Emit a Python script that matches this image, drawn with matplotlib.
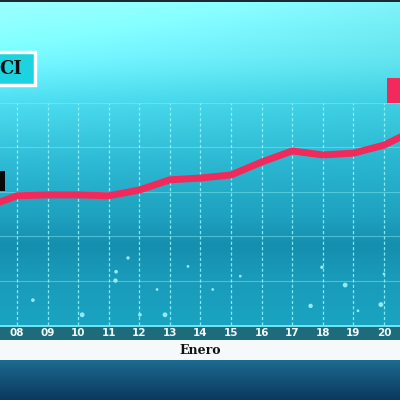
import numpy as np
import matplotlib
matplotlib.use("Agg")
import matplotlib.pyplot as plt
from matplotlib.colors import to_rgb
from matplotlib.patches import Rectangle

# Days of January shown on the axis (07 and 21 fall outside the frame)
days = [7, 8, 9, 10, 11, 12, 13, 14, 15, 16, 17, 18, 19, 20, 21]
values = [2.66, 2.91, 2.93, 2.93, 2.91, 3.04, 3.27, 3.31, 3.38, 3.67, 3.92, 3.83, 3.87, 4.05, 4.39]
tick_days = [8, 9, 10, 11, 12, 13, 14, 15, 16, 17, 18, 19, 20]
tick_labels = ['08', '09', '10', '11', '12', '13', '14', '15', '16', '17', '18', '19', '20']
x_label = 'Enero'
title_label = 'CI'

# decorative light dots in the lower part of the plot (day, value)
dot_x = [8.52, 10.13, 11.22, 11.24, 11.63, 12.02, 12.58, 12.84, 13.59, 14.4, 15.3, 17.6, 17.97, 18.73, 19.15, 19.9, 20.0]
dot_y = [0.56, 0.23, 1.0, 1.2, 1.51, 0.23, 0.8, 0.23, 1.32, 0.8, 1.1, 0.43, 1.3, 0.9, 0.32, 0.46, 1.15]
dot_s = [7, 12, 10, 7, 6, 7, 4, 12, 4, 4, 4, 10, 6, 12, 4, 12, 4]

fig = plt.figure(figsize=(4, 4), dpi=100)

# background gradient
bg = fig.add_axes([0, 0, 1, 1])
bg.set_axis_off()
stops = [(0, '#80f4f9'), (60, '#62e4ef'), (100, '#3fd0e3'), (160, '#2ab6d0'),
         (215, '#1ea2c0'), (245, '#168eae'), (275, '#199ab9'), (325, '#1aa4c2')]
rows = np.arange(400)
ys = [s[0] for s in stops]
cols = np.array([to_rgb(s[1]) for s in stops])
grad = np.stack([np.interp(rows, ys, cols[:, k]) for k in range(3)], axis=1)
img = np.repeat(grad[:, None, :], 400, axis=1)
# lighter on the left at the top
xs = np.linspace(1, 0, 400)
fade = np.clip(1 - rows / 200, 0, 1)[:, None] * xs[None, :] * 0.12
img = np.clip(img + fade[:, :, None], 0, 1)
# bottom dark blue band
low = np.stack([np.interp(np.arange(40), [0, 39], [a, b]) for a, b in
                zip(to_rgb('#1d6a90'), to_rgb('#0b395f'))], axis=1)
img[360:400] = low[:, None, :]
img[340:360] = to_rgb('#f6f9f9')
img[325:340] = to_rgb('#1e6b7c')
img[325:327] = to_rgb('#6fe3ee')
img[0:2] = to_rgb('#1b2a30')
bg.imshow(img, extent=[0, 1, 0, 1], aspect='auto', origin='upper')
bg.set_xlim(0, 1)
bg.set_ylim(0, 1)

bg.text(0.5, 1 - 350 / 400, x_label, ha='center', va='center', fontsize=9,
        fontweight='bold', family='DejaVu Serif', color='#111111')

# title box, black box on the left, red box on the right
bg.add_patch(Rectangle((-0.02, 1 - 85 / 400), 0.107, 33 / 400, facecolor='#1dd3df',
                       edgecolor='white', linewidth=2.5, zorder=3))
bg.text(0.055, 1 - 69 / 400, title_label, ha='right', va='center', fontsize=13,
        fontweight='bold', family='DejaVu Serif', color='#101010', zorder=4)
bg.add_patch(Rectangle((0, 1 - 191 / 400), 5 / 400, 20 / 400, facecolor='#0a0a0a', zorder=3))
bg.add_patch(Rectangle((387 / 400, 1 - 103 / 400), 0.05, 25 / 400, facecolor='#f2295b', zorder=3))

# plot area
ax = fig.add_axes([0, 1 - 325 / 400, 1, 222 / 400])
ax.patch.set_alpha(0)
ax.set_xlim(7.444, 20.524)
ax.set_ylim(0, 5)
for v in [1, 2, 3, 4, 5]:
    ax.axhline(v, color='#8beff8', lw=0.8, alpha=0.45)
for d in tick_days:
    ax.axvline(d, color='#8ff3fb', lw=0.9, dashes=(2.5, 1.8), alpha=0.9)
ax.scatter(dot_x, dot_y, s=dot_s, color='#a8f7ff', alpha=0.85, linewidths=0)
ax.plot(days, values, color='#f2295b', lw=5, solid_joinstyle='round', solid_capstyle='round')

ax.set_xticks(tick_days)
ax.set_xticklabels(tick_labels, color='#eefafb', fontsize=7.5, fontweight='bold')
ax.tick_params(axis='x', length=0, pad=2.5)
ax.set_yticks([])
for sp in ax.spines.values():
    sp.set_visible(False)

fig.savefig('out.png', dpi=100)
